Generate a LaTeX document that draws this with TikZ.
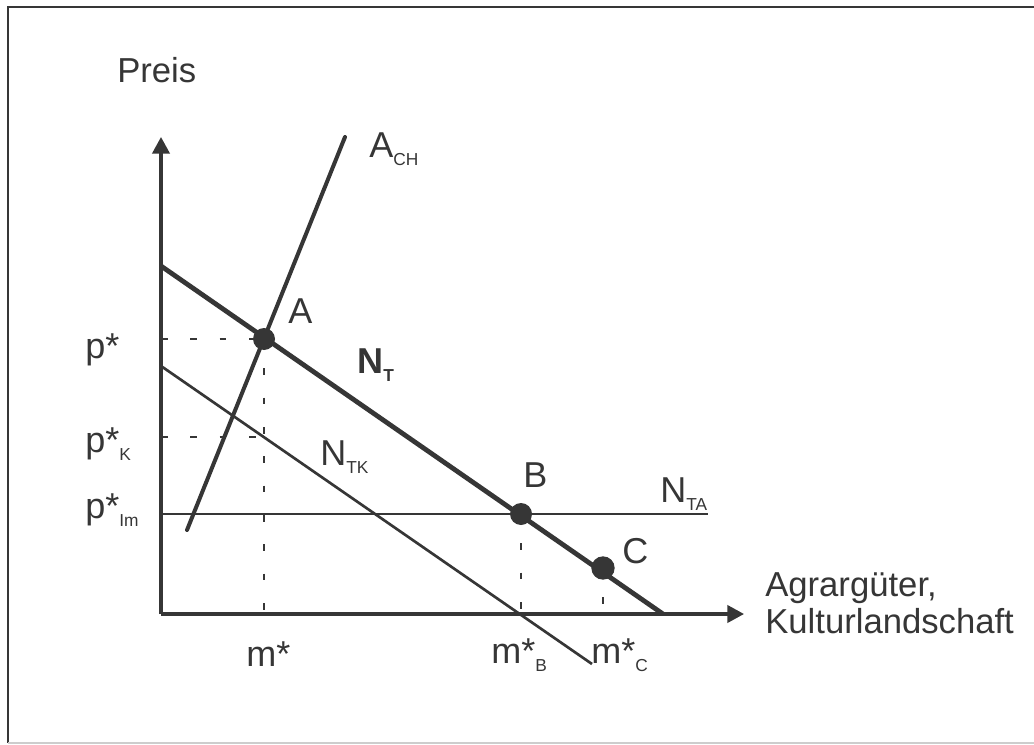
\documentclass[tikz,border=0pt]{standalone}
\usepackage{fontspec}
\setmainfont{Liberation Sans}
\usetikzlibrary{arrows.meta,positioning,calc}
\definecolor{inkgrey}{HTML}{363636}
\newcommand{\lowidx}[1]{\raisebox{-6pt}{\fontsize{13}{13}\selectfont #1}}
\tikzset{
  frame/.style      = {draw=inkgrey, line width=1.6pt},
  axis/.style       = {draw=inkgrey, line width=2.3pt, -{Triangle[length=12.5pt, width=13pt]}},
  demand/.style     = {draw=inkgrey, line width=3.6pt},
  supply/.style     = {draw=inkgrey, line width=3pt, line cap=round},
  shifted/.style    = {draw=inkgrey, line width=2pt},
  guide/.style      = {draw=inkgrey, line width=1.1pt, dash pattern=on 5pt off 17pt},
  eqpt/.style       = {circle, fill=inkgrey, minimum size=16.5pt, inner sep=0pt},
  lbl/.style        = {font=\fontsize{27}{27}\selectfont, text=inkgrey, inner sep=0pt, anchor=base west},
  axlbl/.style      = {font=\fontsize{26}{28}\selectfont, text=inkgrey, inner sep=0pt, align=left},
}
\begin{document}
\begin{tikzpicture}[x=0.75pt, y=-0.75pt]
  \useasboundingbox (0,0) rectangle (1034,745);
  \draw[frame] (1034,7) -- (8,7) -- (8,743);
  \draw[frame, draw=inkgrey!25, line width=0.8pt] (8,743) -- (1034,743);
  % axes
  \coordinate (o)    at (161,614);
  \coordinate (ytip) at (161,137);
  \coordinate (xtip) at (744,614);
  \draw[axis] (o) -- (ytip);
  \draw[axis] (o) -- (xtip);
  \node[axlbl, anchor=base west] (preis) at (117,83) {Preis};
  \node[axlbl, anchor=north west] (menge) at (765,572) {Agrargüter,\\Kulturlandschaft};
  % curves
  \coordinate (nt0)  at (161,266);
  \coordinate (nt1)  at (663,614);
  \coordinate (ntk0) at (161,366);
  \coordinate (ntk1) at (592,664);
  \coordinate (ach0) at (187,530);
  \coordinate (ach1) at (345,137);
  \coordinate (nta0) at (161,514);
  \coordinate (nta1) at (708,514);
  \draw[shifted] (nta0) -- (nta1);
  \draw[shifted] (ntk0) -- (ntk1);
  \draw[demand] (nt0) -- (nt1);
  \draw[supply] (ach0) -- (ach1);
  % equilibria
  \coordinate (pa) at (264,339);
  \coordinate (pb) at (521,514);
  \coordinate (pc) at (603,568);
  \coordinate (pk) at (264,437);
  \draw[guide] (161,339) -- (pa);
  \draw[guide] (161,437) -- (pk);
  \draw[guide] (pa) -- (pa |- o);
  \draw[guide] (pb) -- (pb |- o);
  \draw[guide] (pc) -- (pc |- o);
  \node[eqpt] (ptA) at (pa) {};
  \node[eqpt] (ptB) at (pb) {};
  \node[eqpt, minimum size=17.5pt] (ptC) at (pc) {};
  % labels
  \node[lbl] (labA)   at (288,323) {A};
  \node[lbl] (labB)   at (523,487) {B};
  \node[lbl] (labC)   at (622,563) {C};
  \node[lbl] (labAch) at (369,158) {A\lowidx{CH}};
  \node[lbl] (labNt)  at (357,373) {\bfseries N\lowidx{\bfseries T}};
  \node[lbl] (labNtk) at (320,465) {N\lowidx{TK}};
  \node[lbl] (labNta) at (660,502) {N\lowidx{TA}};
  \node[lbl] (labp)   at (85,358)  {p*};
  \node[lbl] (labpk)  at (85,452)  {p*\lowidx{K}};
  \node[lbl] (labpim) at (85,518)  {p*\lowidx{Im}};
  \node[lbl] (labm)   at (246,666) {m*};
  \node[lbl] (labmb)  at (491,663) {m*\lowidx{B}};
  \node[lbl] (labmc)  at (591,663) {m*\lowidx{C}};
\end{tikzpicture}
\end{document}
